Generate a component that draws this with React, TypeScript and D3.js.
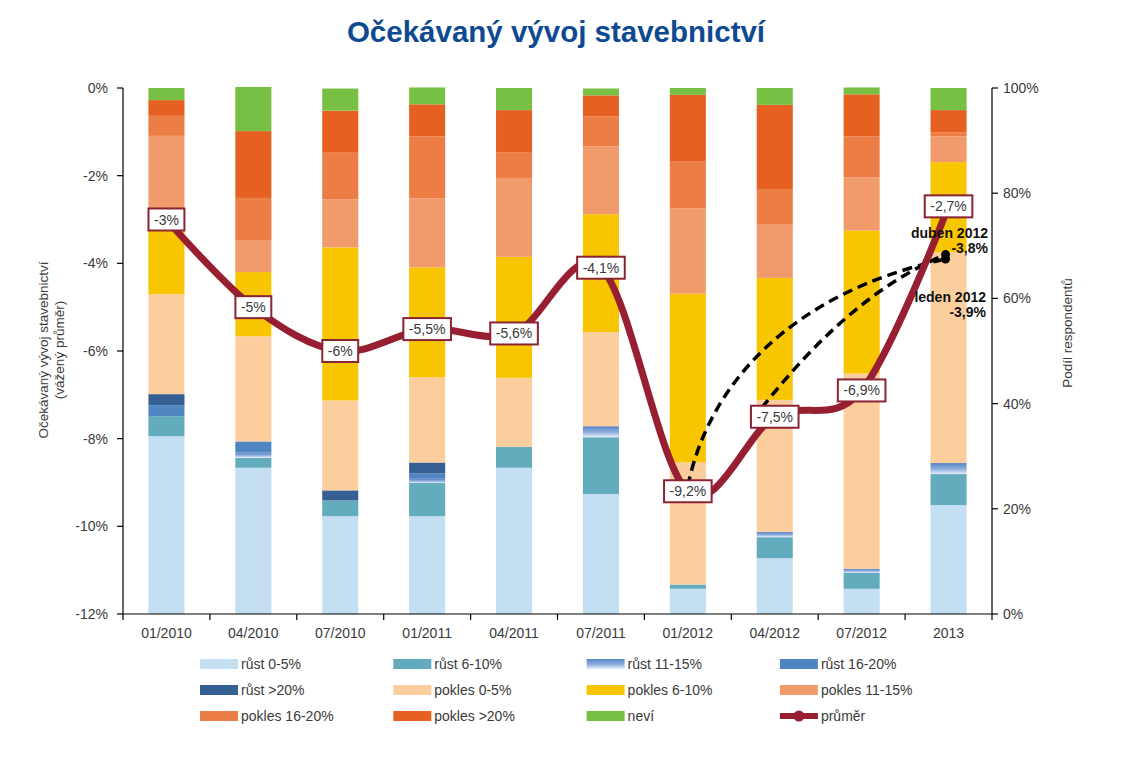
import * as React from 'react';
import * as d3 from 'd3';

const categories = ['01/2010', '04/2010', '07/2010', '01/2011', '04/2011', '07/2011', '01/2012', '04/2012', '07/2012', '2013'];

const seriesNames = [
  'růst 0-5%', 'růst 6-10%', 'růst 11-15%', 'růst 16-20%', 'růst >20%',
  'pokles 0-5%', 'pokles 6-10%', 'pokles 11-15%', 'pokles 16-20%', 'pokles >20%', 'neví'
];

// share of respondents (%) per category, bottom to top
const rust0_5 = [33.8, 27.8, 18.6, 18.6, 27.8, 22.8, 4.8, 10.6, 4.8, 20.7];
const rust6_10 = [3.8, 1.9, 3.0, 6.3, 4.0, 10.8, 0.8, 4.0, 3.0, 5.9];
const rust11_15 = [0, 1.0, 0, 0.8, 0, 2.1, 0, 1.0, 0.8, 2.1];
const rust16_20 = [2.1, 2.1, 0, 1.0, 0, 0, 0, 0, 0, 0];
const rust20 = [2.1, 0, 1.9, 2.1, 0, 0, 0, 0, 0, 0];
const pokles0_5 = [19.0, 20.0, 17.1, 16.2, 13.1, 17.9, 23.2, 25.1, 37.1, 40.1];
const pokles6_10 = [12.2, 12.2, 29.1, 20.9, 23.0, 22.4, 32.1, 23.2, 27.2, 17.1];
const pokles11_15 = [17.9, 6.1, 9.1, 13.1, 15.0, 12.9, 16.2, 10.1, 10.1, 4.9];
const pokles16_20 = [3.8, 8.0, 8.9, 11.8, 4.9, 5.7, 8.9, 6.8, 7.8, 0.8];
const pokles20 = [3.0, 12.7, 8.0, 6.1, 8.0, 4.0, 12.7, 16.0, 8.0, 4.2];
const nevi = [2.3, 8.4, 4.2, 3.2, 4.2, 1.3, 1.3, 3.2, 1.3, 4.2];

const prumer = [-3, -5, -6, -5.5, -5.6, -4.1, -9.2, -7.5, -6.9, -2.7];

const leftTicks = [0, -2, -4, -6, -8, -10, -12];
const rightTicks = [0, 20, 40, 60, 80, 100];

// earlier forecasts for 2013
const forecasts = [
  { name: 'leden 2012', from: '01/2012', to: '2013', value: -3.9, start: -9.2 },
  { name: 'duben 2012', from: '04/2012', to: '2013', value: -3.8, start: -7.5 }
];

const colors = [
  '#c4def2', '#62acbd', 'url(#g1115)', '#4f86c2', '#365f93',
  '#fcce9e', '#f7c600', '#f19b6c', '#ec7e45', '#e66022', '#77c043'
];
const lineColor = '#981e32';
const font = '"Liberation Sans", Arial, sans-serif';
const textColor = '#3a3a3a';

const fmt = (v: number) => String(v).replace('.', ',') + '%';
const textW = (s: string) => {
  let w = 0;
  for (const c of s) w += c === '-' ? 4.7 : c === ',' ? 3.9 : c === '%' ? 12.4 : 7.8;
  return w;
};

export default function App() {
  const W = 1129, H = 784;
  const left = 123, right = 992, top = 88, bottom = 614;

  const x = d3.scaleBand<string>().domain(categories).range([left, right]).paddingInner(0.585).paddingOuter(0.2925);
  const yL = d3.scaleLinear().domain([-12, 0]).range([bottom, top]);
  const yR = d3.scaleLinear().domain([0, 100]).range([bottom, top]);
  const cx = (c: string) => (x(c) as number) + x.bandwidth() / 2;

  const rows = categories.map((c, i) => {
    const r: any = { cat: c };
    [rust0_5, rust6_10, rust11_15, rust16_20, rust20, pokles0_5, pokles6_10, pokles11_15, pokles16_20, pokles20, nevi]
      .forEach((arr, k) => { r[seriesNames[k]] = arr[i]; });
    return r;
  });
  const stacked = d3.stack().keys(seriesNames)(rows);

  const linePath = d3.line<number>()
    .x((_, i) => cx(categories[i]))
    .y(d => yL(d))
    .curve(d3.curveCardinal.tension(0))(prumer) as string;

  const step = x.step();
  const boundaries = d3.range(categories.length + 1).map(i => left + i * step);

  const forecastPath = (f: any, k: number) => {
    const x0 = cx(f.from) + (k === 0 ? 0 : -13), y0 = yL(f.start) - (k === 0 ? 5 : 9);
    const x1 = cx(f.to) - 3, y1 = yL(f.value);
    const dx = x1 - x0, dy = y1 - y0;
    const p = d3.path();
    p.moveTo(x0, y0);
    if (k === 0) p.bezierCurveTo(x0 + 0.08 * dx, y0 + 0.45 * dy, x0 + 0.4 * dx, y0 + 0.85 * dy, x1, y1);
    else p.bezierCurveTo(x0 + 0.15 * dx, y0 + 0.22 * dy, x0 + 0.5 * dx, y0 + 0.75 * dy, x1, y1);
    return p.toString();
  };

  const legendItems = [...seriesNames.map((n, i) => ({ name: n, color: colors[i] })), { name: 'průměr', color: 'line' }];

  return (
    <svg width={W} height={H} style={{ position: 'absolute', left: 0, top: 0, background: '#fff' }} fontFamily={font}>
      <defs>
        <linearGradient id="g1115" x1="0" y1="0" x2="0" y2="1">
          <stop offset="0" stopColor="#5a84c4" />
          <stop offset="0.55" stopColor="#8fb0de" />
          <stop offset="1" stopColor="#e6eef9" />
        </linearGradient>
      </defs>
      <text x={556} y={42} textAnchor="middle" fontSize={29.5} fontWeight="bold" fill="#0e4a92">Očekávaný vývoj stavebnictví</text>

      {stacked.map((s, k) => (
        <g key={s.key} fill={colors[k]}>
          {s.map((d: any) => (d[1] - d[0] > 0 ?
            <rect key={d.data.cat} x={x(d.data.cat)} width={x.bandwidth()} y={yR(d[1])} height={yR(d[0]) - yR(d[1])} /> : null))}
        </g>
      ))}

      {/* axes */}
      <g stroke="#000" strokeWidth={1.2}>
        <line x1={left} x2={left} y1={top} y2={bottom} />
        <line x1={right} x2={right} y1={top} y2={bottom} />
        <line x1={left} x2={right} y1={bottom} y2={bottom} />
        {leftTicks.map(t => <line key={t} x1={left - 6} x2={left} y1={yL(t)} y2={yL(t)} />)}
        {rightTicks.map(t => <line key={t} x1={right} x2={right + 6} y1={yR(t)} y2={yR(t)} />)}
        {boundaries.map(b => <line key={b} x1={b} x2={b} y1={bottom} y2={bottom + 6} />)}
      </g>
      <g fontSize={14} fill={textColor}>
        {leftTicks.map(t => <text key={t} x={108} y={yL(t) + 5} textAnchor="end">{t}%</text>)}
        {rightTicks.map(t => <text key={t} x={1003} y={yR(t) + 5}>{t}%</text>)}
        {categories.map(c => <text key={c} x={cx(c)} y={638} textAnchor="middle">{c}</text>)}
      </g>
      <g fontSize={13.5} fill={textColor} textAnchor="middle">
        <text transform="translate(48,350) rotate(-90)">Očekávaný vývoj stavebnictví</text>
        <text transform="translate(64,350) rotate(-90)">(vážený průměr)</text>
        <text transform="translate(1072,333) rotate(-90)">Podíl respondentů</text>
      </g>

      {/* earlier forecasts */}
      {forecasts.map((f, k) => (
        <g key={f.name}>
          <path d={forecastPath(f, k)} fill="none" stroke="#000" strokeWidth={3.5} strokeDasharray="10 6" />
          <circle cx={cx(f.to) - 3} cy={yL(f.value)} r={4.5} fill="#000" />
        </g>
      ))}

      <path d={linePath} fill="none" stroke={lineColor} strokeWidth={7} strokeLinejoin="round" />

      {prumer.map((v, i) => {
        const s = fmt(v);
        const w = textW(s) + 11;
        const px = cx(categories[i]), py = yL(v);
        return (
          <g key={i}>
            <rect x={px - w / 2} y={py - 11} width={w} height={22} fill="#fff" stroke="#8a2433" strokeWidth={2} />
            <text x={px} y={py + 5} textAnchor="middle" fontSize={14} fill={textColor}>{s}</text>
          </g>
        );
      })}

      <g fontSize={14} fontWeight="bold" fill="#111" textAnchor="end">
        <text x={988} y={238}>duben 2012</text>
        <text x={988} y={253}>{fmt(forecasts[1].value)}</text>
        <text x={986} y={302}>leden 2012</text>
        <text x={986} y={317}>{fmt(forecasts[0].value)}</text>
      </g>

      {/* legend */}
      <g fontSize={14} fill={textColor}>
        {legendItems.map((it, i) => {
          const lx = 200 + (i % 4) * 193.3;
          const ly = 664 + Math.floor(i / 4) * 26;
          return (
            <g key={it.name}>
              {it.color === 'line' ? (
                <g>
                  <line x1={lx} x2={lx + 38} y1={ly} y2={ly} stroke={lineColor} strokeWidth={6} />
                  <circle cx={lx + 19} cy={ly} r={5.5} fill={lineColor} />
                </g>
              ) : (
                <rect x={lx} y={ly - 5} width={38} height={10} fill={it.color} />
              )}
              <text x={lx + 41} y={ly + 5}>{it.name}</text>
            </g>
          );
        })}
      </g>
    </svg>
  );
}
